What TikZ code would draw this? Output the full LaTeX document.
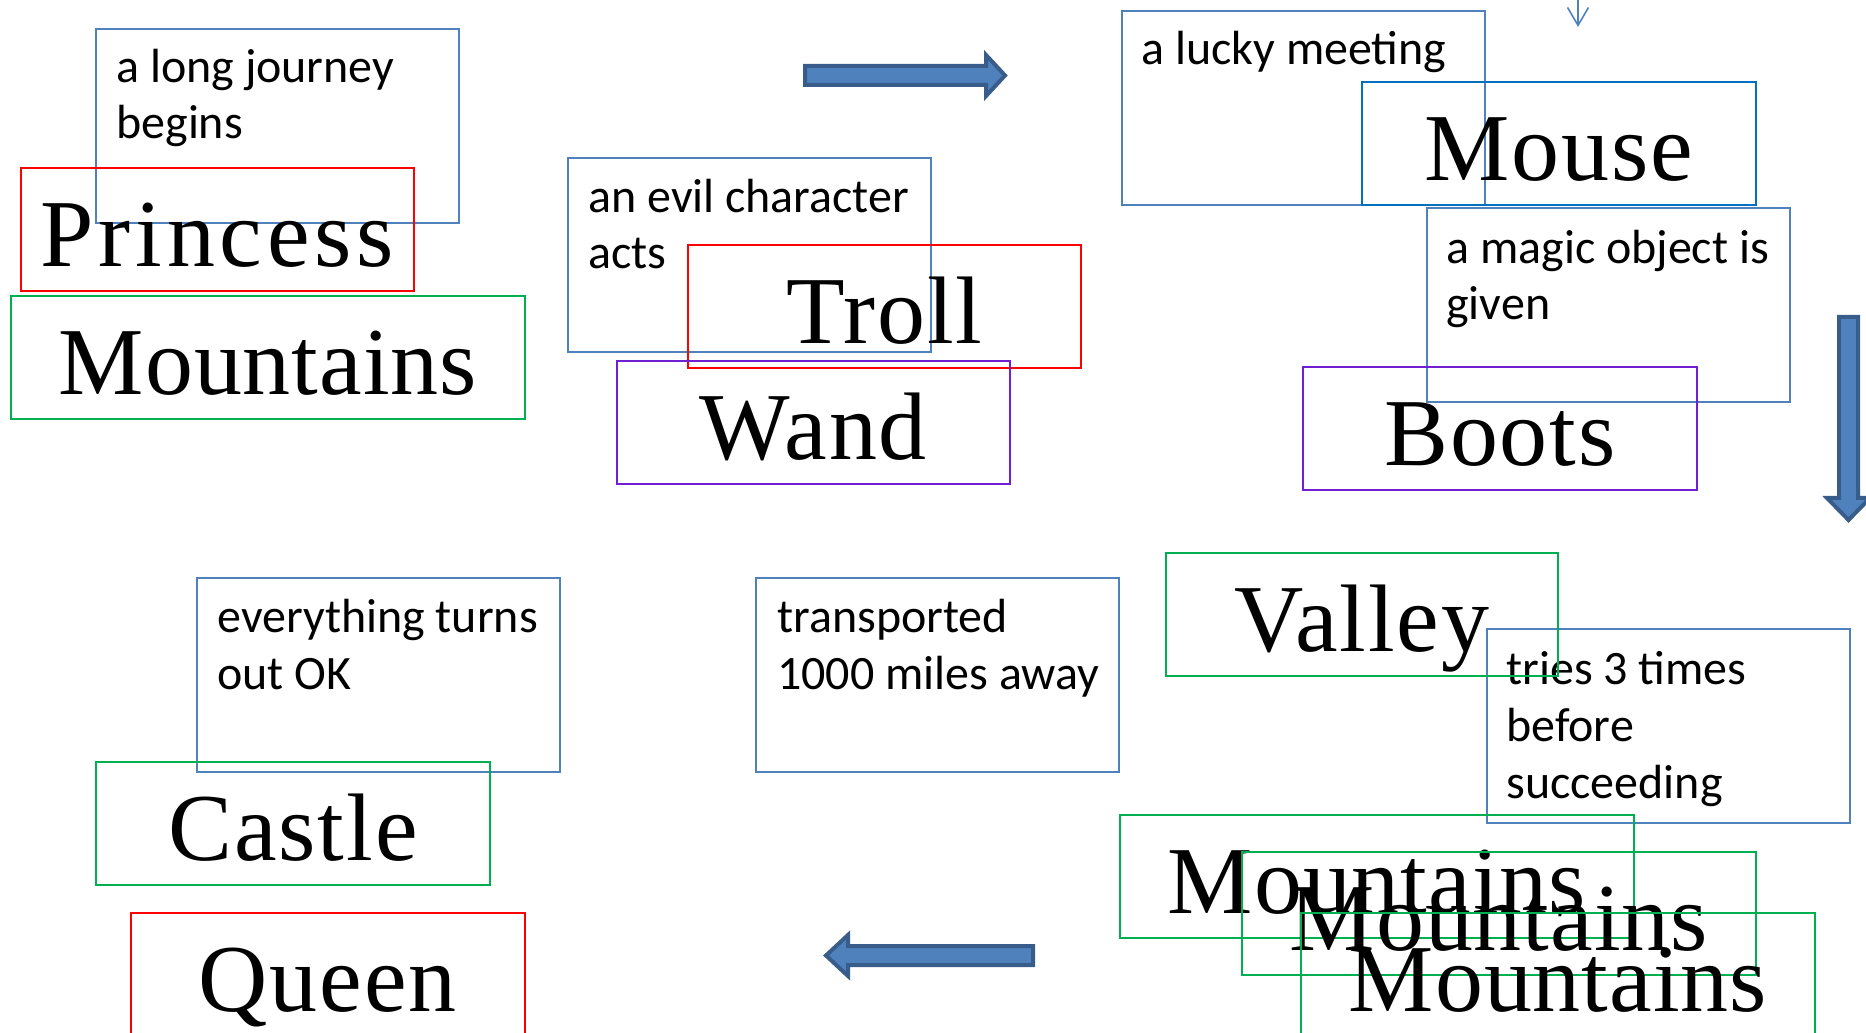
\documentclass[tikz,border=0pt]{standalone}
\usepackage{fontspec}
\usetikzlibrary{arrows.meta}
\newfontfamily\storyfont{Carlito}
\newfontfamily\wordfont{Liberation Serif}[LetterSpace=2]
\definecolor{storyblue}{RGB}{79,129,189}
\definecolor{mouseblue}{RGB}{0,112,192}
\definecolor{wordred}{RGB}{255,0,0}
\definecolor{wordgreen}{RGB}{0,176,80}
\definecolor{wordpurple}{RGB}{112,32,208}
\definecolor{arrowfill}{RGB}{79,129,189}
\definecolor{arrowedge}{RGB}{56,93,138}
\begin{document}
\begin{tikzpicture}[x=0.02cm, y=-0.02cm,
  word/.style={draw, line width=1.1pt, inner sep=0pt, anchor=north west,
    minimum width=7.86cm, text height=1.98cm, text depth=0.48cm,
    font=\wordfont\fontsize{54.6}{60}\selectfont},
  wideword/.style={word, minimum width=10.28cm,
    font=\wordfont\addfontfeature{LetterSpace=1}\fontsize{54.6}{60}\selectfont},
  storybox/.style={draw=storyblue, line width=1.1pt, inner sep=0pt, anchor=north west,
    minimum width=7.26cm, minimum height=3.88cm},
  storytext/.style={anchor=base west, align=left, inner sep=0pt,
    font=\storyfont\fontsize{27.3}{32.4}\selectfont},
  blockarrow/.style={fill=arrowfill, draw=arrowedge, line width=0.08cm}]
\useasboundingbox (0,0) rectangle (1866,1033);

% story steps (text placed at the baseline of its last line)
\node[storybox] (journey) at (95,28) {};
\node[storytext] (journeytext) at (116,139) {a long journey\\begins};
\node[storybox] (evil) at (567,157) {};
\node[storytext] (eviltext) at (588,269) {an evil character\\acts};
\node[storybox] (lucky) at (1121,10) {};
\node[storytext] (luckytext) at (1141,65) {a lucky meeting};
\node[storybox] (magic) at (1426,207) {};
\node[storytext] (magictext) at (1446,320) {a magic object is\\given};
\node[storybox] (tries) at (1486,628) {};
\node[storytext] (triestext) at (1506,798) {tries 3 times\\before\\succeeding};
\node[storybox] (transported) at (755,577) {};
\node[storytext] (transportedtext) at (777,689) {transported\\1000 miles away};
\node[storybox] (ok) at (196,577) {};
\node[storytext] (oktext) at (217,689) {everything turns\\out OK};

% cards
\node[word, draw=wordred, font=\wordfont\addfontfeature{LetterSpace=5}\fontsize{54.6}{60}\selectfont]
  (princess) at (20,167) {Princess};
\node[wideword, draw=wordgreen] (mountains) at (10,295) {Mountains};
\node[word, draw=wordred] (troll) at (687,244) {Troll};
\node[word, draw=wordpurple] (wand) at (616,360) {Wand};
\node[word, draw=mouseblue, minimum width=7.88cm] (mouse) at (1361,81) {Mouse};
\node[word, draw=wordpurple, minimum width=7.88cm] (boots) at (1302,366) {Boots};
\node[word, draw=wordgreen, minimum width=7.84cm] (valley) at (1165,552) {Valley};
\node[wideword, draw=wordgreen] (mountainsa) at (1119,814) {Mountains};
\node[wideword, draw=wordgreen] (mountainsb) at (1241,851) {Mountains};
\node[wideword, draw=wordgreen] (mountainsc) at (1300,912) {Mountains};
\node[word, draw=wordgreen, minimum width=7.88cm] (castle) at (95,761) {Castle};
\node[word, draw=wordred, minimum width=7.88cm] (queen) at (130,912) {Queen};

% arrows
\draw[blockarrow] (805,66) -- (986,66) -- (986,55) -- (1005,75.5) -- (986,96)
  -- (986,85) -- (805,85) -- cycle;
\draw[blockarrow] (1839,317) -- (1858,317) -- (1858,498) -- (1870,498)
  -- (1848.5,520) -- (1827,498) -- (1839,498) -- cycle;
\draw[blockarrow] (1033,946) -- (848,946) -- (848,935) -- (826,955.5) -- (848,976)
  -- (848,965) -- (1033,965) -- cycle;
\coordinate (dropstart) at (1578,-2);
\coordinate (dropend) at (1578,27);
\draw[storyblue, line width=0.9pt, -{Straight Barb[length=0.36cm, width=0.42cm]}]
  (dropstart) -- (dropend);
\end{tikzpicture}
\end{document}
